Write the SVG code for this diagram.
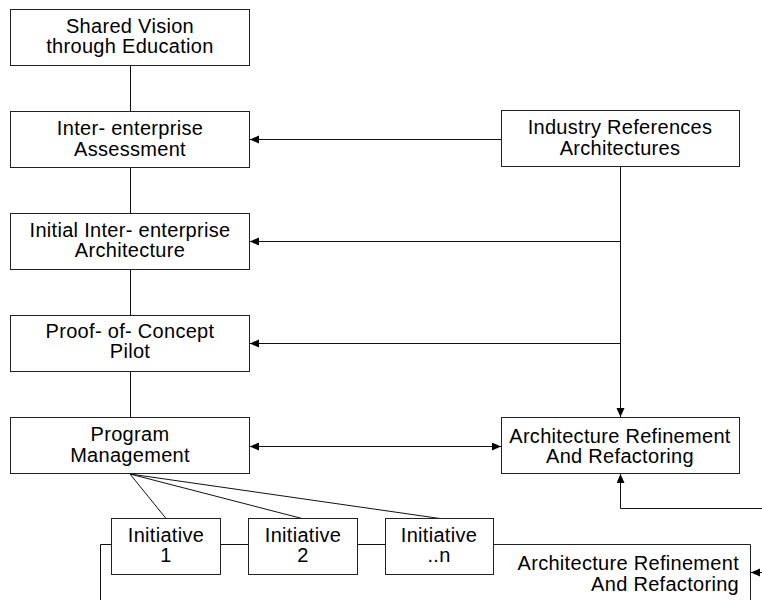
<svg xmlns="http://www.w3.org/2000/svg" width="762" height="600" viewBox="0 0 762 600">
  <style>
    .box { fill: #fff; stroke: #222; stroke-width: 1; }
    .lbl { font-family: "Liberation Sans", Arial, sans-serif; font-size: 20px; fill: #000; text-anchor: middle; letter-spacing: 0.3px; }
    .rt { text-anchor: end; }
    .wire { fill: none; stroke: #111; stroke-width: 1; }
    .arr { marker-end: url(#head); }
  </style>
  <defs>
    <marker id="head" markerUnits="userSpaceOnUse" markerWidth="10" markerHeight="10" refX="9" refY="4" orient="auto-start-reverse">
      <path d="M0,0 L9,4 L0,8 z" fill="#000"/>
    </marker>
  </defs>
  <rect width="762" height="600" fill="#fff"/>

  <g id="connectors">
    <!-- spine of the left column -->
    <path class="wire" d="M130.5 65.5 V111.5 M130.5 167.5 V213.5 M130.5 269.5 V315.5 M130.5 371.5 V417.5"/>
    <!-- reference architectures feeding the left column -->
    <path class="wire arr" d="M501.5 139.5 H250"/>
    <path class="wire arr" d="M620.5 166.5 V417"/>
    <path class="wire arr" d="M620.5 241.5 H250"/>
    <path class="wire arr" d="M620.5 343.5 H250"/>
    <!-- program management to refinement, both ways -->
    <path class="wire arr" d="M250 446.5 H501" style="marker-start:url(#head)"/>
    <!-- feedback from the right -->
    <path class="wire arr" d="M762 508.5 H620.5 V474"/>
    <!-- program management to initiatives -->
    <path class="wire" d="M130 474 L166 518.5 M130 474 L302 518.5 M130 474 L440 518.5"/>
    <!-- initiative chain -->
    <path class="wire" d="M220.5 544.5 H248.5 M357.5 544.5 H385.5"/>
    <path class="wire" d="M111.5 544.5 H100.5 V600"/>
    <path class="wire arr" d="M762 572.5 H751"/>
  </g>

  <g id="shared-vision">
    <rect class="box" x="10.5" y="9.5" width="239" height="56"/>
    <text class="lbl" x="130" y="33">Shared Vision</text>
    <text class="lbl" x="130" y="53">through Education</text>
  </g>
  <g id="assessment">
    <rect class="box" x="10.5" y="111.5" width="239" height="56"/>
    <text class="lbl" x="130" y="135">Inter- enterprise</text>
    <text class="lbl" x="130" y="156">Assessment</text>
  </g>
  <g id="initial-architecture">
    <rect class="box" x="10.5" y="213.5" width="239" height="56"/>
    <text class="lbl" x="130" y="237">Initial Inter- enterprise</text>
    <text class="lbl" x="130" y="257">Architecture</text>
  </g>
  <g id="proof-of-concept">
    <rect class="box" x="10.5" y="315.5" width="239" height="56"/>
    <text class="lbl" x="130" y="338">Proof- of- Concept</text>
    <text class="lbl" x="130" y="358">Pilot</text>
  </g>
  <g id="program-management">
    <rect class="box" x="10.5" y="417.5" width="239" height="56"/>
    <text class="lbl" x="130" y="441">Program</text>
    <text class="lbl" x="130" y="462">Management</text>
  </g>
  <g id="industry-references">
    <rect class="box" x="501.5" y="110.5" width="238" height="56"/>
    <text class="lbl" x="620" y="134">Industry References</text>
    <text class="lbl" x="620" y="155">Architectures</text>
  </g>
  <g id="refinement">
    <rect class="box" x="501.5" y="417.5" width="238" height="56"/>
    <text class="lbl" x="620" y="443">Architecture Refinement</text>
    <text class="lbl" x="620" y="463">And Refactoring</text>
  </g>
  <g id="initiative-1">
    <rect class="box" x="111.5" y="518.5" width="109" height="56"/>
    <text class="lbl" x="166" y="542">Initiative</text>
    <text class="lbl" x="166" y="562">1</text>
  </g>
  <g id="initiative-2">
    <rect class="box" x="248.5" y="518.5" width="109" height="56"/>
    <text class="lbl" x="303" y="542">Initiative</text>
    <text class="lbl" x="303" y="562">2</text>
  </g>
  <g id="initiative-n">
    <rect class="box" x="385.5" y="518.5" width="108" height="56"/>
    <text class="lbl" x="439" y="542">Initiative</text>
    <text class="lbl" x="439" y="562">..n</text>
  </g>
  <g id="refinement-2">
    <path class="box" style="fill:none" d="M493.5 544.5 H750.5 V600"/>
    <text class="lbl rt" x="739" y="570">Architecture Refinement</text>
    <text class="lbl rt" x="739" y="591">And Refactoring</text>
  </g>
</svg>
